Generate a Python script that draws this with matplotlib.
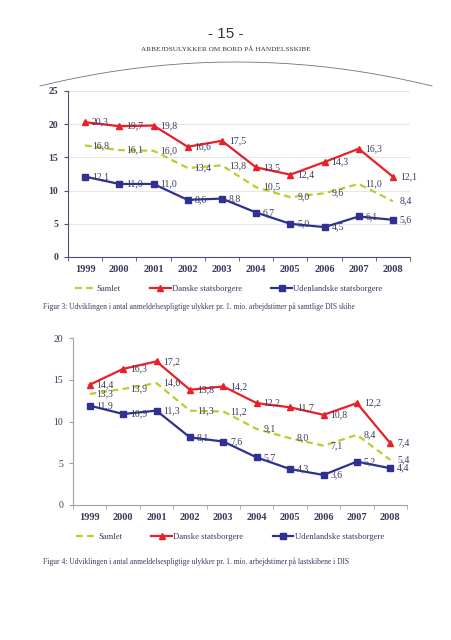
import matplotlib.pyplot as plt
import numpy as np

years = [1999, 2000, 2001, 2002, 2003, 2004, 2005, 2006, 2007, 2008]

# Figur 3 - samtlige DIS skibe
samlet_3 = [16.8, 16.1, 16.0, 13.4, 13.8, 10.5, 9.0, 9.6, 11.0, 8.4]
danske_3 = [20.3, 19.7, 19.8, 16.6, 17.5, 13.5, 12.4, 14.3, 16.3, 12.1]
udenl_3 = [12.1, 11.0, 11.0, 8.6, 8.8, 6.7, 5.0, 4.5, 6.1, 5.6]

# Figur 4 - lastskibene i DIS
samlet_4 = [13.3, 13.9, 14.6, 11.3, 11.2, 9.1, 8.0, 7.1, 8.4, 5.4]
danske_4 = [14.4, 16.3, 17.2, 13.8, 14.2, 12.2, 11.7, 10.8, 12.2, 7.4]
udenl_4 = [11.9, 10.9, 11.3, 8.1, 7.6, 5.7, 4.3, 3.6, 5.2, 4.4]

series_names = ["Samlet", "Danske statsborgere", "Udenlandske statsborgere"]
caption_3 = "Figur 3: Udviklingen i antal anmeldelsespligtige ulykker pr. 1. mio. arbejdstimer på samtlige DIS skibe"
caption_4 = "Figur 4: Udviklingen i antal anmeldelsespligtige ulykker pr. 1. mio. arbejdstimer på lastskibene i DIS"

W, H = 452, 640
C_SAM = "#b8cf2a"
C_DAN = "#e8202a"
C_UDL = "#2e3192"
C_TXT = "#3a3a5c"
SERIF = "Liberation Serif"


def px_axes(fig, left, right, top, bottom):
    return fig.add_axes([left / W, 1 - bottom / H, (right - left) / W, (bottom - top) / H])


def label(v):
    return ("%.1f" % v).replace(".", ",")


def draw_chart(ax, sam, dan, udl, ymax, grid, bold_y, spine_col, legend_y):
    ax.plot(years, sam, color=C_SAM, lw=1.6, ls=(0, (3, 2)), label=series_names[0])
    ax.plot(years, dan, color=C_DAN, lw=1.6, marker="^", ms=5, label=series_names[1])
    ax.plot(years, udl, color=C_UDL, lw=1.6, marker="s", ms=5, label=series_names[2])
    for vals in (sam, dan, udl):
        for x, v in zip(years, vals):
            ax.annotate(label(v), (x, v), xytext=(5, 0), textcoords="offset points",
                        fontsize=7, family=SERIF, color=C_TXT, va="center", ha="left")
    ax.set_xlim(1998.5, 2008.5)
    ax.set_ylim(0, ymax)
    ax.set_yticks(range(0, ymax + 1, 5))
    ax.set_xticks(years)
    ax.set_xticks(np.arange(1998.5, 2009, 1), minor=True)
    ax.tick_params(axis="x", which="major", length=0, pad=6)
    ax.tick_params(axis="x", which="minor", length=3, color=spine_col)
    ax.tick_params(axis="y", length=3, color=spine_col, pad=4)
    for t in ax.get_xticklabels():
        t.set_fontfamily(SERIF)
        t.set_fontweight("bold")
        t.set_fontsize(7.5)
        t.set_color(C_TXT)
    for t in ax.get_yticklabels():
        t.set_fontfamily(SERIF)
        t.set_fontweight("bold" if bold_y else "normal")
        t.set_fontsize(7)
        t.set_color(C_TXT)
    if grid:
        ax.yaxis.grid(True, color="#e6e6e6", lw=0.8)
        ax.set_axisbelow(True)
    for s in ("top", "right"):
        ax.spines[s].set_visible(False)
    ax.spines["left"].set_color(spine_col)
    ax.spines["bottom"].set_color(spine_col)
    leg = ax.legend(loc="center", bbox_to_anchor=(0.47, legend_y), ncol=3, frameon=False,
                    prop={"family": SERIF, "size": 6.2}, handlelength=2.4,
                    columnspacing=3.4, handletextpad=0.15)
    for t in leg.get_texts():
        t.set_color(C_TXT)


fig = plt.figure(figsize=(W / 100, H / 100), dpi=100)
fig.patch.set_facecolor("white")

# page decoration
deco = fig.add_axes([0, 0, 1, 1])
deco.set_xlim(0, W)
deco.set_ylim(H, 0)
deco.axis("off")
xs = np.linspace(40, 432, 200)
deco.plot(xs, 62 + 24 * ((xs - 236) / 196) ** 2, color="#707080", lw=0.6)
deco.text(226, 34, "- 15 -", ha="center", va="center", fontsize=11, family="Liberation Sans", color="#333340")
deco.text(226, 49, "ARBEJDSULYKKER OM BORD PÅ HANDELSSKIBE", ha="center", va="center",
          fontsize=5.2, family=SERIF, color="#333340")
deco.text(43, 307, caption_3, ha="left", va="center", fontsize=5.45, family=SERIF, color=C_TXT)
deco.text(43, 562, caption_4, ha="left", va="center", fontsize=5.45, family=SERIF, color=C_TXT)

ax1 = px_axes(fig, 68, 410, 91, 257)
draw_chart(ax1, samlet_3, danske_3, udenl_3, 25, True, True, "#4a5070", -0.19)

ax2 = px_axes(fig, 73, 407, 338, 505)
draw_chart(ax2, samlet_4, danske_4, udenl_4, 20, False, False, "#a0a0a8", -0.19)

fig.savefig("out.png", dpi=100)
